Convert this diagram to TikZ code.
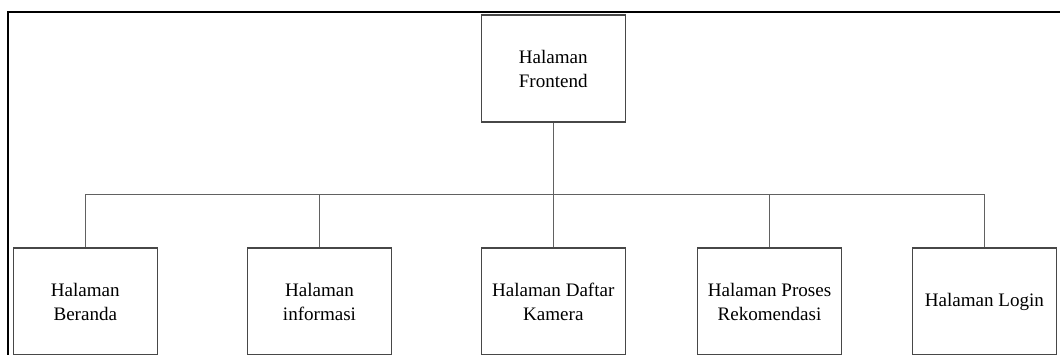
\documentclass[tikz,border=0pt]{standalone}
\usepackage{fontspec}
\setmainfont{Liberation Serif}
\begin{document}
\begin{tikzpicture}[x=0.75pt,y=-0.75pt,
  page/.style={draw=black!72, line width=1.1pt, fill=white, rectangle,
    minimum width=108pt, minimum height=80.25pt, inner sep=0pt,
    align=center, font=\fontsize{14.3pt}{18pt}\selectfont},
  link/.style={draw=black!62, line width=1.1pt},
  frameline/.style={draw=black, line width=1.5pt}]
  \useasboundingbox (0,0) rectangle (1060,354);
  % outer frame (left and top edges)
  \draw[frameline] (7.5,360) -- (7.5,12) -- (1065,12);
  % root page
  \node[page] (root) at (553.3,68.5) {Halaman\\Frontend};
  % child pages
  \node[page] (b1) at (85.3,301.5) {Halaman\\Beranda};
  \node[page] (b2) at (319.5,301.5) {Halaman\\informasi};
  \node[page] (b3) at (553.3,301.5) {Halaman Daftar\\Kamera};
  \node[page] (b4) at (769.5,301.5) {Halaman Proses\\Rekomendasi};
  \node[page] (b5) at (984.4,301.5) {Halaman Login};
  % connector bus
  \coordinate (bus) at (553.3,194.3);
  \draw[link] (root.south) -- (bus);
  \draw[link] (b1.north) -- (b1.north |- bus) -| (b5.north);
  \draw[link] (b2.north) -- (b2.north |- bus);
  \draw[link] (b3.north) -- (b3.north |- bus);
  \draw[link] (b4.north) -- (b4.north |- bus);
\end{tikzpicture}
\end{document}
